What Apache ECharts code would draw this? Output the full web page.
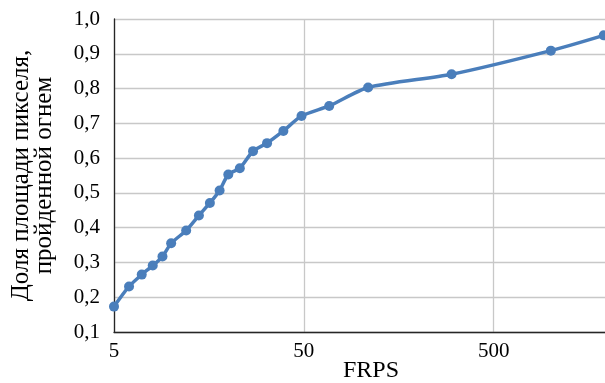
<!DOCTYPE html>
<html>
<head>
<meta charset="utf-8">
<script src="https://cdn.jsdelivr.net/npm/echarts@6/dist/echarts.min.js"></script>
<style>
  html, body { margin: 0; padding: 0; background: #fff; }
  #chart { width: 605px; height: 383px; }
</style>
</head>
<body>
<div id="chart"></div>
<script>
  // FRPS values (x, log axis) and pixel share burnt (y)
  const frps = [5, 6, 7, 8, 9, 10, 12, 14, 16, 18, 20, 23, 27, 32, 39, 48.6, 68, 109, 300, 1000, 1900];
  const share = [0.173, 0.231, 0.265, 0.291, 0.317, 0.355, 0.392, 0.435, 0.471, 0.507, 0.553,
                 0.571, 0.620, 0.643, 0.678, 0.721, 0.750, 0.803, 0.841, 0.909, 0.953];
  const xTicks = [5, 50, 500];
  const yTicks = [0.1, 0.2, 0.3, 0.4, 0.5, 0.6, 0.7, 0.8, 0.9, 1.0];

  const X_BASE = 5;     // log axis starts at 5
  const X_MAX = 2000;
  const lg = v => Math.log10(v / X_BASE);

  const font = "'Liberation Serif', 'Times New Roman', serif";
  const chart = echarts.init(document.getElementById('chart'));

  const option = {
    animation: false,
    grid: { left: 114, top: 19, bottom: 51, right: -3, containLabel: false, outerBoundsMode: 'none' },
    xAxis: {
      type: 'value',
      min: 0,
      max: lg(X_MAX),
      interval: 1,
      name: 'FRPS',
      nameLocation: 'middle',
      nameGap: 27,
      nameMoveOverlap: false,
      nameTextStyle: { fontFamily: font, fontSize: 24, color: '#000', padding: [0, 0, 0, 20] },
      axisLine: { show: true, lineStyle: { color: '#262626', width: 1.3 } },
      axisTick: { show: false },
      axisLabel: {
        fontFamily: font, fontSize: 21, color: '#000', margin: 9,
        showMaxLabel: false,
        formatter: v => {
          const t = xTicks.find(x => Math.abs(lg(x) - v) < 1e-6);
          return t === undefined ? '' : String(t);
        }
      },
      splitLine: { show: true, showMaxLine: false, lineStyle: { color: '#c8c8c8', width: 1.3 } }
    },
    yAxis: {
      type: 'value',
      min: yTicks[0],
      max: yTicks[yTicks.length - 1],
      interval: 0.1,
      name: 'Доля площади пикселя,\nпройденной огнем',
      nameLocation: 'middle',
      nameRotate: 90,
      nameGap: 58,
      nameMoveOverlap: false,
      nameTextStyle: { fontFamily: font, fontSize: 25, color: '#000', lineHeight: 23 },
      axisLine: { show: true, lineStyle: { color: '#262626', width: 1.3 } },
      axisTick: { show: false },
      axisLabel: {
        fontFamily: font, fontSize: 21, color: '#000', margin: 14,
        formatter: v => v.toFixed(1).replace('.', ',')
      },
      splitLine: { show: true, lineStyle: { color: '#c8c8c8', width: 1.3 } }
    },
    series: [{
      type: 'line',
      data: frps.map((f, i) => [lg(f), share[i]]),
      smooth: 0.25,
      symbol: 'circle',
      symbolSize: 10,
      clip: false,
      lineStyle: { color: '#4a7ebb', width: 3.5 },
      itemStyle: { color: '#4a7ebb' }
    }]
  };
  chart.setOption(option);
</script>
</body>
</html>
